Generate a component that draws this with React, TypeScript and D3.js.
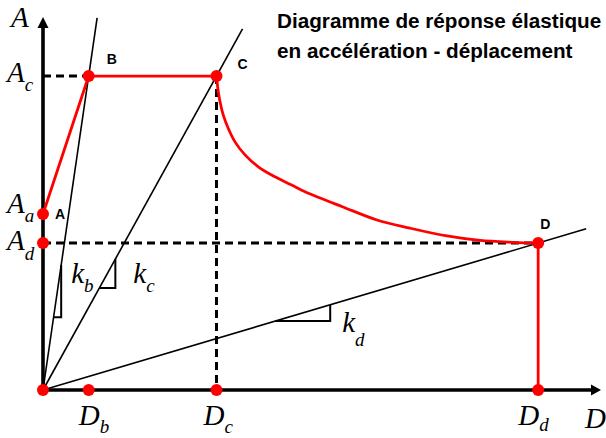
import React from "react";
import * as d3 from "d3";

const W = 606;
const H = 438;

// Characteristic points of the spectrum (displacement D, acceleration A)
const pointLabels = ["A", "B", "C", "D"];
const pointD = [0, 8.2, 31.15, 88.9];
const pointA = [47.3, 84.4, 84.4, 39.5];

// Descending branch from C to D
const branchD = [31.15, 31.47, 31.78, 32.37, 33.27, 34.47, 36.27, 38.65, 41.65, 44.65, 47.04, 53.86, 59.96, 65.89, 72.53, 78.46, 84.38, 88.9];
const branchA = [84.4, 80.2, 77.5, 73.9, 70.3, 66.7, 63.2, 60.0, 57.3, 55.1, 53.3, 49.2, 45.7, 43.5, 41.4, 40.2, 39.7, 39.5];

// Stiffness lines from the origin through B, C and D
const stiffnessSubs = ["b", "c", "d"];
const stiffnessReach = [1.185, 1.15, 1.097];
const triangleFrom = [0.232, 0.325, 0.469];
const triangleTo = [0.398, 0.417, 0.58];

const domainD = [0, 100];
const domainA = [0, 100];

const titleLines = ["Diagramme de réponse élastique", "en accélération - déplacement"];

const RED = "#ff0000";
const SERIF = "'Liberation Serif', 'Times New Roman', serif";
const SANS = "'Liberation Sans', Arial, sans-serif";

function Sym({ x, y, main, sub, subDy = 9, size = 29 }: { x: number; y: number; main: string; sub?: string; subDy?: number; size?: number }) {
  return (
    <text x={x} y={y} fontFamily={SERIF} fontStyle="italic" fontSize={size} fill="#000">
      {main}
      {sub ? (
        <tspan fontSize={19} dy={subDy}>
          {sub}
        </tspan>
      ) : null}
    </text>
  );
}

export default function App() {
  const x = d3.scaleLinear().domain(domainD).range([43, 600]);
  const y = d3.scaleLinear().domain(domainA).range([390, 18]);

  const [iA, iB, iC, iD] = [0, 1, 2, 3];
  const Aa = pointA[iA];
  const Ac = pointA[iB];
  const Ad = pointA[iD];
  const Db = pointD[iB];
  const Dc = pointD[iC];
  const Dd = pointD[iD];

  const x0 = x(0);
  const y0 = y(0);

  const lineFn = d3
    .line<[number, number]>()
    .x((d) => x(d[0]))
    .y((d) => y(d[1]));

  const branch = d3
    .line<[number, number]>()
    .x((d) => x(d[0]))
    .y((d) => y(d[1]))
    .curve(d3.curveCatmullRom.alpha(0.5))(branchD.map((d, i) => [d, branchA[i]] as [number, number]));

  const stiffIdx = [iB, iC, iD];

  const dots: [number, number][] = [
    [0, 0],
    [pointD[iA], Aa],
    [pointD[iB], Ac],
    [pointD[iC], pointA[iC]],
    [Dd, Ad],
    [0, Ad],
    [Db, 0],
    [Dc, 0],
    [Dd, 0],
  ];

  const dash = "8,5";

  const pointLabelOffsets: [number, number][] = [
    [12, 5],
    [18, -12],
    [21, -7],
    [2, -14],
  ];

  const axisTop = y(domainA[1]);
  const axisRight = x(domainD[1]);

  return (
    <svg width={W} height={H} style={{ position: "absolute", left: 0, top: 0, background: "#fff" }}>
      <rect width={W} height={H} fill="#fff" />

      {/* title */}
      {titleLines.map((t, i) => (
        <text key={i} x={277} y={28 + i * 30} fontFamily={SANS} fontWeight="bold" fontSize={20.7} fill="#000">
          {t}
        </text>
      ))}

      {/* dashed reference lines */}
      <g stroke="#000" strokeWidth={3} strokeDasharray={dash} fill="none">
        <path d={lineFn([[0, Ac], [pointD[iB], Ac]])!} />
        <path d={lineFn([[0, Ad], [Dd, Ad]])!} />
        <path d={lineFn([[Dc, pointA[iC]], [Dc, 0]])!} />
      </g>

      {/* stiffness lines and slope triangles */}
      <g stroke="#000" strokeWidth={1.6} fill="none">
        {stiffIdx.map((p, i) => {
          const r = stiffnessReach[i];
          return <path key={"l" + i} d={lineFn([[0, 0], [pointD[p] * r, pointA[p] * r]])!} />;
        })}
        {stiffIdx.map((p, i) => {
          const a = triangleFrom[i];
          const b = triangleTo[i];
          const p1: [number, number] = [pointD[p] * a, pointA[p] * a];
          const p2: [number, number] = [pointD[p] * b, pointA[p] * b];
          return <path key={"t" + i} strokeWidth={2} d={lineFn([p1, [p2[0], p1[1]], p2])!} />;
        })}
      </g>

      {/* axes */}
      <g>
        <line x1={x0} y1={y0} x2={x0} y2={axisTop + 9} stroke="#000" strokeWidth={3.6} />
        <path d={`M${x0 - 5.5},${axisTop + 10} L${x0},${axisTop - 1} L${x0 + 5.5},${axisTop + 10} Z`} fill="#000" />
        <line x1={x0} y1={y0} x2={axisRight - 8} y2={y0} stroke="#000" strokeWidth={3.6} />
        <path d={`M${axisRight - 9},${y0 - 5.5} L${axisRight + 1},${y0} L${axisRight - 9},${y0 + 5.5} Z`} fill="#000" />
      </g>

      {/* elastic response path */}
      <g stroke={RED} strokeWidth={2.8} fill="none" strokeLinejoin="round">
        <path d={lineFn(pointD.slice(0, 3).map((d, i) => [d, pointA[i]] as [number, number]))!} />
        <path d={branch!} />
        <path d={lineFn([[Dd, Ad], [Dd, 0]])!} />
      </g>

      {/* markers */}
      <g fill={RED}>
        {dots.map((d, i) => (
          <circle key={i} cx={x(d[0])} cy={y(d[1])} r={6} />
        ))}
      </g>

      {/* point names */}
      {pointLabels.map((n, i) => (
        <text
          key={n}
          x={x(pointD[i]) + pointLabelOffsets[i][0]}
          y={y(pointA[i]) + pointLabelOffsets[i][1]}
          fontFamily={SANS}
          fontWeight="bold"
          fontSize={14}
          fill="#000"
        >
          {n}
        </text>
      ))}

      {/* axis symbols */}
      <Sym x={x0 - 32} y={axisTop + 9} main="A" />
      <Sym x={x0 - 36} y={y(Ac) + 6} main="A" sub="c" />
      <Sym x={x0 - 36} y={y(Aa) - 1} main="A" sub="a" />
      <Sym x={x0 - 36} y={y(Ad) + 7} main="A" sub="d" subDy={10} />
      <Sym x={x(Db) - 10} y={y0 + 35} main="D" sub="b" subDy={8} />
      <Sym x={x(Dc) - 13} y={y0 + 35} main="D" sub="c" subDy={8} />
      <Sym x={x(Dd) - 20} y={y0 + 35} main="D" sub="d" subDy={6} />
      <Sym x={axisRight - 15} y={y0 + 38} main="D" />

      {/* stiffness symbols */}
      {stiffnessSubs.map((s, i) => {
        const p = stiffIdx[i];
        const a = triangleFrom[i];
        const b = triangleTo[i];
        const cx = x(pointD[p] * b);
        const cy = y(pointA[p] * a);
        const off: [number, number, number][] = [
          [10, -34, 9],
          [18, -5, 9],
          [12, 11, 14],
        ];
        return <Sym key={s} x={cx + off[i][0]} y={cy + off[i][1]} main="k" sub={s} subDy={off[i][2]} />;
      })}
    </svg>
  );
}
